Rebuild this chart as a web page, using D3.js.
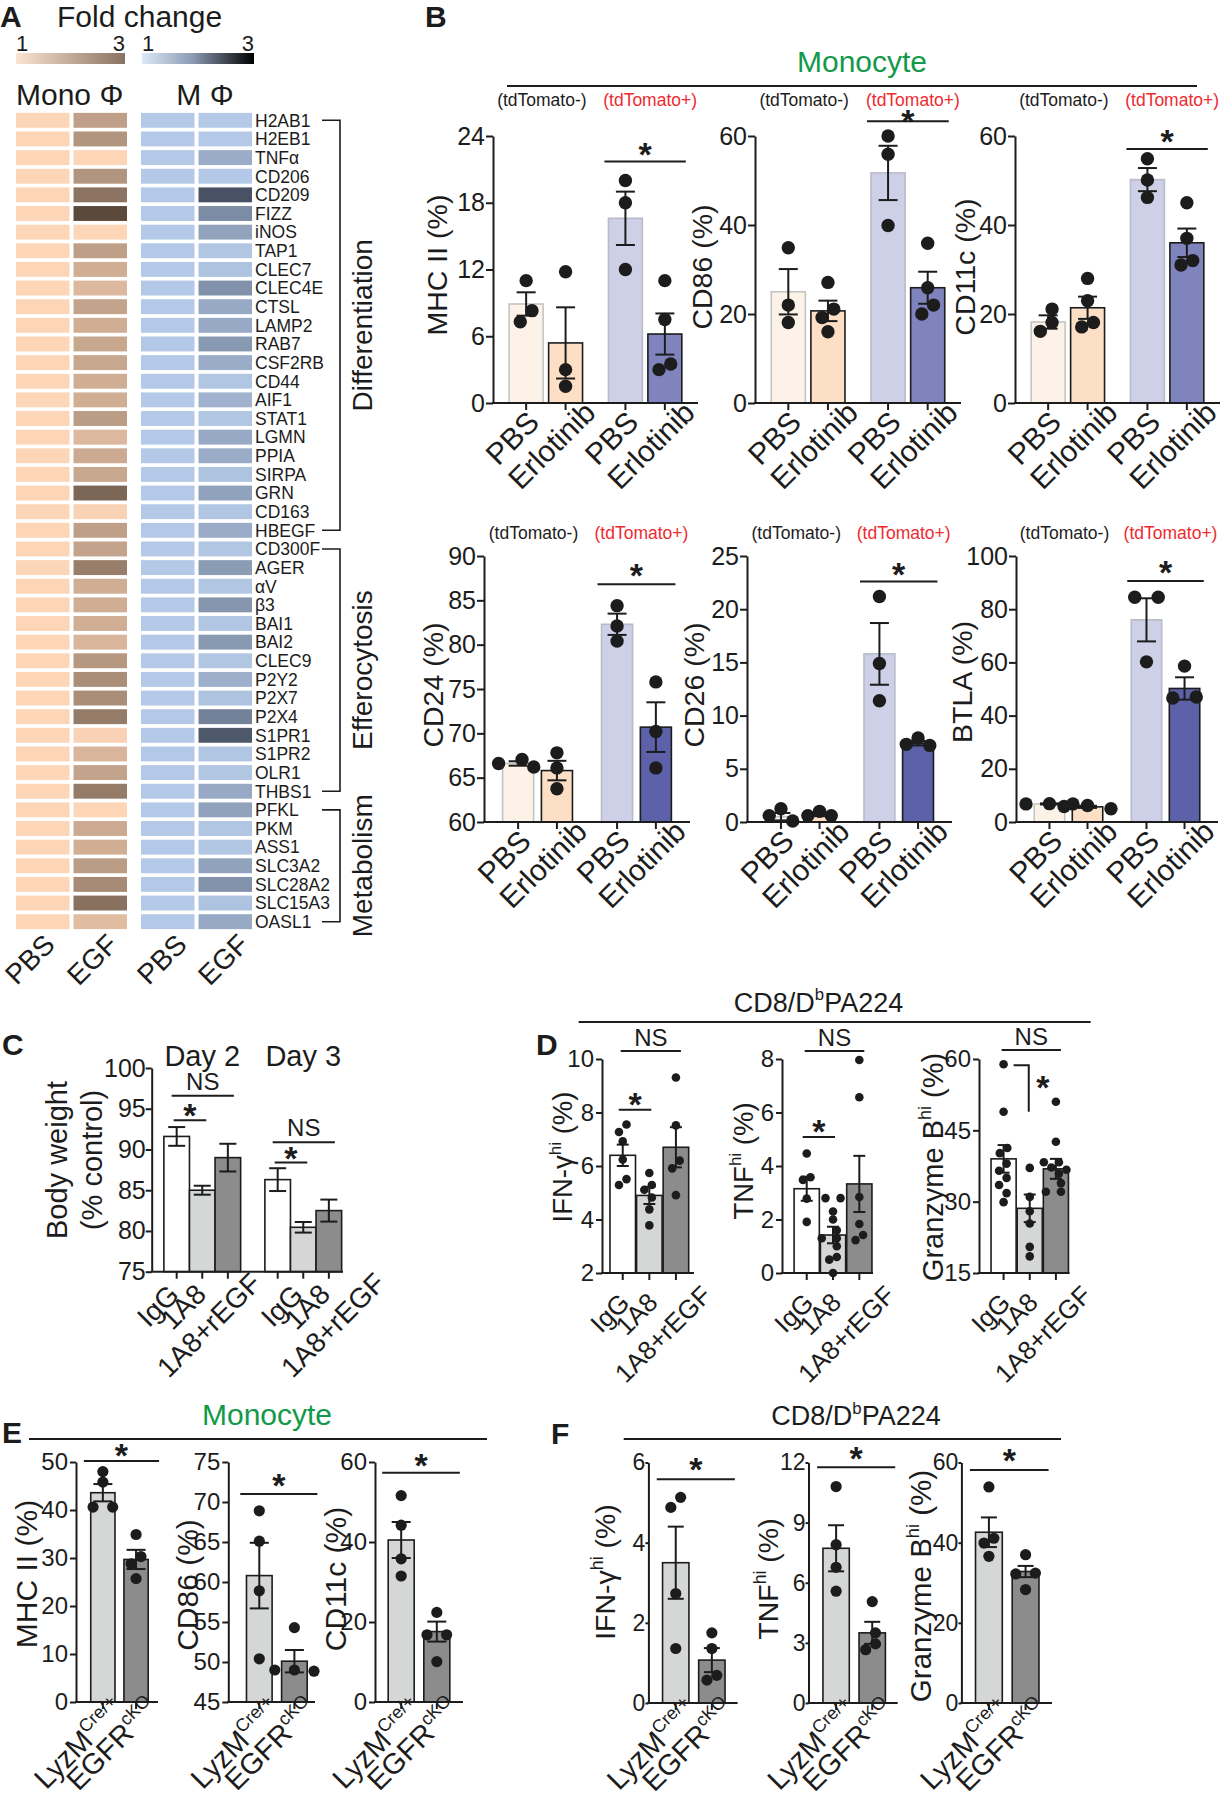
<!DOCTYPE html>
<html>
<head>
<meta charset="utf-8">
<script src="https://cdn.jsdelivr.net/npm/d3@7"></script>
<style>
  body { margin: 0; background: #fff; }
  svg text { font-family: "Liberation Sans", Arial, Helvetica, sans-serif; }
</style>
</head>
<body>
<svg id="fig" width="1226" height="1800"></svg>
<script>
// ---------- panel A : fold change heat map ----------
const genes = ["H2AB1","H2EB1","TNFα","CD206","CD209","FIZZ","iNOS","TAP1","CLEC7","CLEC4E","CTSL","LAMP2","RAB7","CSF2RB","CD44","AIF1","STAT1","LGMN","PPIA","SIRPA","GRN","CD163","HBEGF",
  "CD300F","AGER","αV","β3","BAI1","BAI2","CLEC9","P2Y2","P2X7","P2X4","S1PR1","S1PR2","OLR1","THBS1",
  "PFKL","PKM","ASS1","SLC3A2","SLC28A2","SLC15A3","OASL1"];
const geneSets = ["Differentiation", "Efferocytosis", "Metabolism"];
const geneSetFirst = ["H2AB1", "CD300F", "PFKL"];
const geneSetLast = ["HBEGF", "THBS1", "OASL1"];
const heatCells = ["Mono Φ", "M Φ"];
const heatCols = ["PBS", "EGF"];
const monoPBS = [1,1,1,1,1,1,1,1,1,1,1,1,1,1,1,1,1,1,1,1,1,1,1, 1,1,1,1,1,1,1,1,1,1,1,1,1,1, 1,1,1,1,1,1,1];
const monoEGF = [1.75,1.9,1.0,1.9,2.35,2.95,1.0,1.75,1.55,1.4,1.7,1.55,1.65,1.65,1.55,1.55,1.8,1.4,1.6,1.65,2.55,1.05,1.75,
  1.7,2.2,1.55,1.55,1.55,1.45,1.85,2.0,2.0,2.25,1.05,1.45,1.7,2.25,
  1.0,1.6,1.55,1.8,2.05,2.4,1.35];
const macPBS = [1,1,1,1,1,1,1,1,1,1,1,1,1,1,1,1,1,1,1,1,1,1,1, 1,1,1,1,1,1,1,1,1,1,1,1,1,1, 1,1,1,1,1,1,1];
const macEGF = [1.0,1.0,1.45,1.0,2.85,1.95,1.6,1.05,1.1,1.85,1.5,1.5,1.75,1.45,1.05,1.35,1.05,1.5,1.45,1.1,1.6,1.05,1.45,
  1.05,1.7,1.05,1.8,1.05,1.75,1.05,1.4,1.1,2.1,2.75,1.05,1.05,1.5,
  1.6,1.05,1.05,1.6,1.85,1.1,1.5];

// ---------- panel B : monocytes, PBS vs erlotinib ----------
const bCells = ["(tdTomato-)", "(tdTomato+)"];
const bTreat = ["PBS", "Erlotinib"];
const mhcMean = [8.9, 5.4, 16.6, 6.2];
const mhcSem = [1.05, 3.2, 2.4, 1.85];
const mhcPts = [[11.0, 8.3, 7.3], [11.8, 3.0, 1.5], [20.0, 18.0, 12.0], [11.0, 7.5, 3.0, 3.5]];
const cd86Mean = [25.0, 20.7, 51.7, 25.9];
const cd86Sem = [5.1, 2.3, 6.1, 3.6];
const cd86Pts = [[34.9, 22.0, 18.1], [27.1, 21.1, 19.2, 16.0], [60.0, 55.9, 39.9], [35.9, 25.9, 22.0, 20.0]];
const cd11cMean = [18.2, 21.4, 50.2, 36.0];
const cd11cSem = [1.5, 2.5, 2.6, 3.2];
const cd11cPts = [[21.1, 18.1, 16.1], [28.0, 23.0, 18.1, 17.1], [54.9, 50.1, 46.2], [45.0, 37.0, 32.0, 31.0]];
const cd24Mean = [66.6, 65.8, 82.3, 70.7];
const cd24Sem = [0.25, 1.1, 1.2, 2.8];
const cd24Pts = [[66.2, 67.05, 66.6], [67.8, 66.1, 63.75], [84.4, 82.1, 80.4], [75.8, 70.2, 66.1]];
const cd26Mean = [0.5, 0.7, 15.8, 7.4];
const cd26Sem = [0.35, 0.15, 2.9, 0.2];
const cd26Pts = [[0.1, 1.25, 0.6], [0.6, 1.0, 0.6], [21.2, 14.9, 11.4], [7.9, 7.2, 7.3]];
const btlaMean = [6.8, 5.7, 76.0, 50.2];
const btlaSem = [0.2, 0.4, 8.1, 4.2];
const btlaPts = [[6.8, 6.9, 6.8], [5.0, 6.2, 5.8], [84.5, 84.5, 60.2], [58.6, 46.6, 47.0]];

// ---------- panel C : body weight ----------
const cDays = ["Day 2", "Day 3"];
const cGroups = ["IgG", "1A8", "1A8+rEGF"];
const weightDay2 = [91.6, 85.0, 89.0];
const weightSemDay2 = [1.15, 0.55, 1.7];
const weightDay3 = [86.3, 80.45, 82.5];
const weightSemDay3 = [1.4, 0.65, 1.35];

// ---------- panel D : CD8/DbPA224 ----------
const dGroups = ["IgG", "1A8", "1A8+rEGF"];
const ifnMean = [6.4, 4.9, 6.7];
const ifnSem = [0.4, 0.32, 0.75];
const ifnPts = [[7.27, 7.55, 6.92, 6.24, 5.51, 5.29], [5.74, 5.29, 5.11, 4.82, 4.38, 3.78], [9.31, 7.52, 6.2, 5.91, 4.91]];
const tnfMean = [3.15, 1.42, 3.33];
const tnfSem = [0.45, 0.31, 1.05];
const tnfPts = [[4.47, 3.58, 3.48, 2.78, 1.91], [2.8, 2.8, 2.3, 2.0, 1.6, 1.3, 1.3, 1.0, 0.6, 0.5, 0.0], [7.96, 6.57, 2.84, 1.83, 1.42, 1.23]];
const gzbMean = [39.0, 28.6, 36.9];
const gzbSem = [2.9, 2.9, 2.1];
const gzbPts = [[58.9, 48.9, 41.3, 40.2, 38, 36.5, 35, 33.5, 31.8, 29.9], [37.1, 31, 28, 25.4, 20.5, 18.5], [51, 42.6, 38.3, 38.3, 37.2, 36.7, 35.9, 33.9, 32.1, 32.1]];

// ---------- panels E / F : LyzM-cre vs EGFR cKO ----------
const efGroups = [[["LyzM"], ["Cre/+", true]], [["EGFR"], ["cKO", true]]];
const mhcEMean = [43.6, 29.7], mhcESem = [1.8, 2.0], mhcEPts = [[45.8, 48, 40.6, 40.6], [34.9, 30.3, 28.8, 25.7]];
const cd86EMean = [60.8, 50.1], cd86ESem = [4.1, 1.4], cd86EPts = [[68.9, 65.1, 58.9, 50.4], [54.3, 49, 48.85, 49]];
const cd11cEMean = [40.5, 17.6], cd11cESem = [4.5, 2.5], cd11cEPts = [[51.6, 44.2, 35.8, 31.5], [22.4, 16.8, 16.8, 10.1]];
const ifnFMean = [3.5, 1.07], ifnFSem = [0.9, 0.3], ifnFPts = [[4.88, 5.13, 2.73, 1.36], [1.75, 1.36, 0.69, 0.57]];
const tnfFMean = [7.72, 3.5], tnfFSem = [1.15, 0.55], tnfFPts = [[10.8, 7.9, 6.77, 5.58], [5.06, 3.5, 2.95, 2.66]];
const gzbFMean = [42.6, 32.8], gzbFSem = [3.7, 1.4], gzbFPts = [[53.9, 41.1, 39.9, 36.6], [37, 32.4, 32.2, 28.3]];

// ================= drawing =================
const svg = d3.select("#fig");
const INK = "#1c1c1c";
const GREEN = "#12994a";
const RED = "#ef2a2f";

// text with optional superscripts: parts = ["txt", ["sup", true], ...]
function mkText(sel, parts, size) {
  const t = sel.append("text").attr("font-size", size).attr("fill", INK);
  let up = false;
  parts.forEach(p => {
    const s = Array.isArray(p) ? p[0] : p, sup = Array.isArray(p) && p[1];
    const ts = t.append("tspan").text(s);
    if (sup) {
      ts.attr("font-size", size * 0.62);
      if (!up) { ts.attr("dy", -size * 0.42); up = true; }
    } else if (up) { ts.attr("dy", size * 0.42); up = false; }
  });
  return t;
}

function yLabel(parts, cx, cy, size) {
  mkText(svg, parts, size).attr("text-anchor", "middle").attr("y", size * 0.35)
    .attr("transform", `translate(${cx},${cy}) rotate(-90)`);
}

// rotated category labels, centred below each tick
function xLabels(g, centers, labels, yB, size, dx, ay, by) {
  labels.forEach((lab, i) => {
    const t = mkText(g, Array.isArray(lab) ? lab : [lab], size)
      .attr("text-anchor", "middle").attr("y", size * 0.35);
    const L = t.node().getComputedTextLength();
    const ox = Array.isArray(dx) ? dx[i] : dx;
    t.attr("transform", `translate(${centers[i] + ox},${yB + ay + by * L}) rotate(-45)`);
  });
}

function panelLetter(s, x, y) {
  svg.append("text").attr("x", x).attr("y", y).attr("font-size", 30).attr("font-weight", "bold").attr("fill", INK).text(s);
}

// spread overlapping dots sideways (simple beeswarm)
function dodge(ys, r) {
  const step = 1.75 * r, minD = 1.85 * r;
  const order = d3.range(ys.length).sort((a, b) => ys[a] - ys[b]);
  const off = ys.map(() => 0), done = [];
  order.forEach(i => {
    for (let k = 0; k < 40; k++) {
      const c = k === 0 ? 0 : (k % 2 ? -1 : 1) * Math.ceil(k / 2) * step;
      if (done.every(j => Math.hypot(off[j] - c, ys[j] - ys[i]) >= minD)) { off[i] = c; break; }
    }
    done.push(i);
  });
  // centre each chain of touching dots
  const comp = ys.map((_, i) => i);
  const find = i => comp[i] === i ? i : (comp[i] = find(comp[i]));
  ys.forEach((a, i) => ys.forEach((b, j) => { if (i < j && Math.abs(a - b) < 2 * r) comp[find(i)] = find(j); }));
  const groups = d3.group(d3.range(ys.length), i => find(i));
  groups.forEach(m => { const mu = d3.mean(m, i => off[i]); m.forEach(i => off[i] -= mu); });
  return off;
}

function barChart(o) {
  const g = svg.append("g");
  const y = d3.scaleLinear().domain(o.domain).range([o.yB, o.yT]);
  const idx = d3.range(o.means.length);
  const cx = i => o.xs[i].x + o.xs[i].w / 2;

  g.selectAll("rect.bar").data(idx).join("rect").attr("class", "bar")
    .attr("x", i => o.xs[i].x).attr("width", i => o.xs[i].w)
    .attr("y", i => y(o.means[i])).attr("height", i => o.yB - y(o.means[i]))
    .attr("fill", i => o.fills[i]).attr("stroke", i => o.strokes[i]).attr("stroke-width", 1.6);

  idx.forEach(i => {
    const lo = y(Math.max(o.domain[0], o.means[i] - o.sems[i])), hi = y(o.means[i] + o.sems[i]);
    const eg = g.append("g").attr("stroke", INK).attr("stroke-width", 2);
    eg.append("line").attr("x1", cx(i)).attr("x2", cx(i)).attr("y1", lo).attr("y2", hi);
    [lo, hi].forEach(v => eg.append("line").attr("x1", cx(i) - o.cap / 2).attr("x2", cx(i) + o.cap / 2).attr("y1", v).attr("y2", v));
  });

  if (o.pts) idx.forEach(i => {
    const ys = o.pts[i].map(v => y(v));
    const off = dodge(ys, o.r);
    g.append("g").selectAll("circle").data(ys).join("circle")
      .attr("cx", (d, k) => cx(i) + off[k]).attr("cy", d => d).attr("r", o.r).attr("fill", INK);
  });

  const ax = g.append("g").attr("transform", `translate(${o.x0},0)`)
    .call(d3.axisLeft(y).tickValues(o.ticks).tickFormat(d3.format("~g"))
      .tickSize(o.tickSize).tickPadding(o.tickPad).tickSizeOuter(0));
  ax.attr("font-size", o.tickFont).attr("font-family", null);
  ax.selectAll("path, line").attr("stroke", INK).attr("stroke-width", 2);
  ax.selectAll("text").attr("fill", INK);

  g.append("line").attr("x1", o.x0 - 1).attr("x2", o.x1).attr("y1", o.yB).attr("y2", o.yB)
    .attr("stroke", INK).attr("stroke-width", 2);
  idx.forEach(i => g.append("line").attr("x1", cx(i)).attr("x2", cx(i)).attr("y1", o.yB).attr("y2", o.yB + 7)
    .attr("stroke", INK).attr("stroke-width", 2));

  return { g, y, cx, xs: o.xs };
}

// significance bar with "*" or "NS"
function sig(ch, xa, xb, v, label, gap) {
  const yy = ch.y(v);
  ch.g.append("line").attr("x1", xa).attr("x2", xb).attr("y1", yy).attr("y2", yy).attr("stroke", INK).attr("stroke-width", 2);
  const mx = (xa + xb) / 2;
  if (label === "*") {
    ch.g.append("text").attr("x", mx).attr("y", yy - gap + 0.56 * 34).attr("text-anchor", "middle")
      .attr("font-size", 34).attr("font-weight", "bold").attr("fill", INK).text("*");
  } else {
    ch.g.append("text").attr("x", mx).attr("y", yy - gap).attr("text-anchor", "middle")
      .attr("font-size", 24).attr("fill", INK).text(label);
  }
}

// ---------------- panel A ----------------
panelLetter("A", 0, 27);
svg.append("text").attr("x", 57).attr("y", 27).attr("font-size", 30).attr("fill", INK).text("Fold change");
const defs = svg.append("defs");
const gradMono = defs.append("linearGradient").attr("id", "gMono");
gradMono.append("stop").attr("offset", "0%").attr("stop-color", "#fbe4d1");
gradMono.append("stop").attr("offset", "100%").attr("stop-color", "#8a7262");
const gradMac = defs.append("linearGradient").attr("id", "gMac");
gradMac.append("stop").attr("offset", "0%").attr("stop-color", "#dde9f7");
gradMac.append("stop").attr("offset", "45%").attr("stop-color", "#8b9bb3");
gradMac.append("stop").attr("offset", "100%").attr("stop-color", "#000000");
[[16, 125, "gMono"], [142, 254, "gMac"]].forEach(([a, b, id]) => {
  svg.append("rect").attr("x", a).attr("y", 53).attr("width", b - a).attr("height", 11).attr("fill", `url(#${id})`);
  svg.append("text").attr("x", a).attr("y", 51).attr("font-size", 22).attr("fill", INK).text("1");
  svg.append("text").attr("x", b).attr("y", 51).attr("text-anchor", "end").attr("font-size", 22).attr("fill", INK).text("3");
});

const rowY = d3.scaleBand().domain(genes).range([111, 931]).paddingInner(0.2).paddingOuter(0.1);
const cellX = d3.scaleBand().domain(heatCells).range([16, 252]).paddingInner(0.112);
const colX = d3.scaleBand().domain(heatCols).range([0, cellX.bandwidth()]).paddingInner(0.07);
const heatColor = [
  d3.scaleLinear().domain([1, 3]).range(["#fdd5b7", "#574639"]),
  d3.scaleLinear().domain([1, 3]).range(["#b4c9e7", "#3f4859"])
];
const heatSeries = [[monoPBS, monoEGF], [macPBS, macEGF]];
heatCells.forEach((cell, ci) => {
  heatCols.forEach((col, j) => {
    svg.append("g").selectAll("rect").data(genes).join("rect")
      .attr("x", cellX(cell) + colX(col)).attr("width", colX.bandwidth())
      .attr("y", d => rowY(d)).attr("height", rowY.bandwidth())
      .attr("fill", (d, i) => heatColor[ci](heatSeries[ci][j][i]));
  });
});
svg.append("text").attr("x", 16).attr("y", 105).attr("font-size", 30).attr("fill", INK).text(heatCells[0]);
svg.append("text").attr("x", 205).attr("y", 105).attr("text-anchor", "middle").attr("font-size", 30).attr("fill", INK).text(heatCells[1]);
svg.append("g").selectAll("text").data(genes).join("text")
  .attr("x", 255).attr("y", d => rowY(d) + rowY.bandwidth() / 2).attr("dy", "0.36em")
  .attr("font-size", 17.5).attr("fill", INK).text(d => d);
geneSets.forEach((s, k) => {
  const ya = rowY(geneSetFirst[k]) + rowY.bandwidth() / 2, yb = rowY(geneSetLast[k]) + rowY.bandwidth() / 2;
  svg.append("path").attr("d", `M322,${ya}H340V${yb}H322`).attr("fill", "none").attr("stroke", INK).attr("stroke-width", 1.6);
  yLabel([s], 362, (ya + yb) / 2, 28);
});
const heatCenters = [];
heatCells.forEach(cell => heatCols.forEach(col => heatCenters.push(cellX(cell) + colX(col) + colX.bandwidth() / 2)));
xLabels(svg, heatCenters, ["PBS", "EGF", "PBS", "EGF"], 931, 28, [-13, -8, -6, -2], 17, 0.2);

// ---------------- panel B ----------------
panelLetter("B", 425, 27);
svg.append("text").attr("x", 862).attr("y", 72).attr("text-anchor", "middle").attr("font-size", 30).attr("fill", GREEN).text("Monocyte");
svg.append("line").attr("x1", 507).attr("x2", 1197).attr("y1", 86).attr("y2", 86).attr("stroke", INK).attr("stroke-width", 2);

const bSets = [
  { name: "MHC II (%)", mean: mhcMean, sem: mhcSem, pts: mhcPts, domain: [0, 24], ticks: [0, 6, 12, 18, 24], sigV: 21.7 },
  { name: "CD86 (%)", mean: cd86Mean, sem: cd86Sem, pts: cd86Pts, domain: [0, 60], ticks: [0, 20, 40, 60], sigV: 63.3 },
  { name: "CD11c (%)", mean: cd11cMean, sem: cd11cSem, pts: cd11cPts, domain: [0, 60], ticks: [0, 20, 40, 60], sigV: 57.1 },
  { name: "CD24 (%)", mean: cd24Mean, sem: cd24Sem, pts: cd24Pts, domain: [60, 90], ticks: [60, 65, 70, 75, 80, 85, 90], sigV: 86.8 },
  { name: "CD26 (%)", mean: cd26Mean, sem: cd26Sem, pts: cd26Pts, domain: [0, 25], ticks: [0, 5, 10, 15, 20, 25], sigV: 22.6 },
  { name: "BTLA (%)", mean: btlaMean, sem: btlaSem, pts: btlaPts, domain: [0, 100], ticks: [0, 20, 40, 60, 80, 100], sigV: 90.6 }
];
const bRows = [
  { yT: 136, yB: 403, pI: 0.261, pO: 0.163, pi2: 0.14, head: 106, fill4: "#8084be" },
  { yT: 556, yB: 822, pI: 0.294, pO: 0.188, pi2: 0.2, head: 539, fill4: "#5c61a9" }
];
const bFrames = [
  { x0: 493, x1: 698, row: 0, lab: [437, 265], gap: 15 },
  { x0: 755, x1: 961, row: 0, lab: [702, 267], gap: 7 },
  { x0: 1015, x1: 1220, row: 0, lab: [965, 267], gap: 15 },
  { x0: 484, x1: 690, row: 1, lab: [433, 685], gap: 16 },
  { x0: 747, x1: 952, row: 1, lab: [694, 685], gap: 15 },
  { x0: 1016, x1: 1218, row: 1, lab: [962, 682], gap: 16 }
];
bSets.forEach((s, k) => {
  const f = bFrames[k], r = bRows[f.row];
  const outer = d3.scaleBand().domain(bCells).range([f.x0, f.x1]).paddingInner(r.pI).paddingOuter(r.pO);
  const inner = d3.scaleBand().domain(bTreat).range([0, outer.bandwidth()]).paddingInner(r.pi2);
  const xs = [];
  bCells.forEach(c => bTreat.forEach(t => xs.push({ x: outer(c) + inner(t), w: inner.bandwidth() })));
  const ch = barChart({
    x0: f.x0, x1: f.x1, yT: r.yT, yB: r.yB, domain: s.domain, ticks: s.ticks, xs,
    means: s.mean, sems: s.sem, pts: s.pts,
    fills: ["#fdf2e7", "#fddfc6", "#cdd0e7", r.fill4], strokes: ["#c4c4c4", INK, "#b9bbc8", INK],
    r: 6.7, cap: 19, tickFont: 25, tickSize: 7, tickPad: 1
  });
  sig(ch, xs[2].x - 4, xs[3].x + xs[3].w + 4, s.sigV, "*", f.gap);
  bCells.forEach((c, j) => {
    svg.append("text").attr("x", outer(c) + outer.bandwidth() / 2 + (j ? 5 : -4)).attr("y", r.head)
      .attr("text-anchor", "middle").attr("font-size", 17.5).attr("fill", j ? RED : INK).text(c);
  });
  yLabel([s.name], f.lab[0], f.lab[1], 28.5);
  xLabels(ch.g, xs.map((_, i) => ch.cx(i)), [bTreat[0], bTreat[1], bTreat[0], bTreat[1]], r.yB, 30, -14, 26, 0.15);
});

// ---------------- panel C ----------------
panelLetter("C", 2, 1055);
{
  const x0 = 151.7, x1 = 343, yT = 1068, yB = 1271.7;
  const outer = d3.scaleBand().domain(cDays).range([x0, x1]).paddingInner(0.24).paddingOuter(0.067).align(0.9);
  const inner = d3.scaleBand().domain(cGroups).range([0, outer.bandwidth()]).paddingInner(0);
  const xs = [];
  cDays.forEach(d => cGroups.forEach(gname => xs.push({ x: outer(d) + inner(gname), w: inner.bandwidth() })));
  const ch = barChart({
    x0, x1, yT, yB, domain: [75, 100], ticks: [75, 80, 85, 90, 95, 100], xs,
    means: weightDay2.concat(weightDay3), sems: weightSemDay2.concat(weightSemDay3), pts: null,
    fills: ["#ffffff", "#d5d6d6", "#8c8c8c", "#ffffff", "#d5d6d6", "#8c8c8c"], strokes: Array(6).fill(INK),
    r: 0, cap: 17, tickFont: 25, tickSize: 6, tickPad: 0
  });
  [0, 3].forEach((b, k) => {
    const vStar = k ? 88.4 : 93.6, vNS = k ? 90.9 : 96.6;
    sig(ch, ch.cx(b) - 3, ch.cx(b + 1) + 4, vStar, "*", 12);
    sig(ch, ch.cx(b) - 5, ch.cx(b + 2) + 6, vNS, "NS", 6);
  });
  cDays.forEach(d => svg.append("text").attr("x", outer(d) + outer.bandwidth() / 2).attr("y", 1066)
    .attr("text-anchor", "middle").attr("font-size", 29).attr("fill", INK).text(d));
  yLabel(["Body weight"], 57, 1160, 29);
  yLabel(["(% control)"], 92, 1160, 29);
  xLabels(ch.g, xs.map((_, i) => ch.cx(i)), cGroups.concat(cGroups), yB, 28, [-19, -19, -19, 4, 4, 4], 24, 0.22);
}

// ---------------- panel D ----------------
panelLetter("D", 536, 1055);
mkText(svg, ["CD8/D", ["b", true], "PA224"], 27).attr("x", 818.5).attr("y", 1011.7).attr("text-anchor", "middle");
svg.append("line").attr("x1", 578.6).attr("x2", 1090.6).attr("y1", 1022).attr("y2", 1022).attr("stroke", INK).attr("stroke-width", 2);
const cdLabels = [
  ["IFN-γ", ["hi", true], " (%)"],
  ["TNF", ["hi", true], " (%)"],
  ["Granzyme B", ["hi", true], " (%)"]
];
{
  const sets = [
    { mean: ifnMean, sem: ifnSem, pts: ifnPts, domain: [2, 10], ticks: [2, 4, 6, 8, 10], star: 8.1, ns: 10.3 },
    { mean: tnfMean, sem: tnfSem, pts: tnfPts, domain: [0, 8], ticks: [0, 2, 4, 6, 8], star: 5.08, ns: 8.3 },
    { mean: gzbMean, sem: gzbSem, pts: gzbPts, domain: [15, 60], ticks: [15, 30, 45, 60], star: null, ns: 61.9 }
  ];
  const frames = [
    { x0: 602, x1: 694, align: 0.6, lab: [562.5, 1157] },
    { x0: 782, x1: 873, align: 0.92, lab: [743, 1161] },
    { x0: 979, x1: 1069.5, align: 0.92, lab: [933, 1167] }
  ];
  sets.forEach((s, k) => {
    const f = frames[k];
    const xb = d3.scaleBand().domain(dGroups).range([f.x0, f.x1]).paddingInner(0.04).paddingOuter(0.25).align(f.align);
    const xs = dGroups.map(gname => ({ x: xb(gname), w: xb.bandwidth() }));
    const ch = barChart({
      x0: f.x0, x1: f.x1, yT: 1059, yB: 1273, domain: s.domain, ticks: s.ticks, xs,
      means: s.mean, sems: s.sem, pts: s.pts,
      fills: ["#ffffff", "#d5d6d6", "#8c8c8c"], strokes: [INK, INK, INK],
      r: 4.3, cap: 12, tickFont: 24, tickSize: 6, tickPad: 2
    });
    if (s.star !== null) sig(ch, ch.cx(0) - 4, ch.cx(1) + 2, s.star, "*", 13);
    sig(ch, ch.cx(0) - 2, ch.cx(2) + 5, s.ns, "NS", 5);
    if (s.star === null) {
      // elbow bracket IgG -> 1A8
      ch.g.append("path").attr("d", `M${ch.cx(0) + 10},${ch.y(58.7)}H${ch.cx(1) - 1}V${ch.y(48.9)}`)
        .attr("fill", "none").attr("stroke", INK).attr("stroke-width", 2);
      ch.g.append("text").attr("x", ch.cx(1) + 13).attr("y", ch.y(55.6) + 0.56 * 34).attr("text-anchor", "middle")
        .attr("font-size", 34).attr("font-weight", "bold").attr("fill", INK).text("*");
    }
    yLabel(cdLabels[k], f.lab[0], f.lab[1], k === 2 ? 29 : 27.5);
    xLabels(ch.g, xs.map((_, i) => ch.cx(i)), dGroups, 1273, 26, -13, 29, 0.26);
  });
}

// ---------------- panels E and F ----------------
panelLetter("E", 2, 1443);
svg.append("text").attr("x", 267).attr("y", 1425).attr("text-anchor", "middle").attr("font-size", 30).attr("fill", GREEN).text("Monocyte");
svg.append("line").attr("x1", 29).attr("x2", 487).attr("y1", 1439).attr("y2", 1439).attr("stroke", INK).attr("stroke-width", 2);
panelLetter("F", 551, 1444);
mkText(svg, ["CD8/D", ["b", true], "PA224"], 27).attr("x", 856).attr("y", 1425).attr("text-anchor", "middle");
svg.append("line").attr("x1", 623.7).attr("x2", 1061).attr("y1", 1439).attr("y2", 1439).attr("stroke", INK).attr("stroke-width", 2);
{
  const sets = [
    { mean: mhcEMean, sem: mhcESem, pts: mhcEPts, domain: [0, 50], ticks: [0, 10, 20, 30, 40, 50], star: 50.2, name: ["MHC II (%)"] },
    { mean: cd86EMean, sem: cd86ESem, pts: cd86EPts, domain: [45, 75], ticks: [45, 50, 55, 60, 65, 70, 75], star: 71, name: ["CD86 (%)"] },
    { mean: cd11cEMean, sem: cd11cESem, pts: cd11cEPts, domain: [0, 60], ticks: [0, 20, 40, 60], star: 57.3, name: ["CD11c (%)"] },
    { mean: ifnFMean, sem: ifnFSem, pts: ifnFPts, domain: [0, 6], ticks: [0, 2, 4, 6], star: 5.58, name: cdLabels[0] },
    { mean: tnfFMean, sem: tnfFSem, pts: tnfFPts, domain: [0, 12], ticks: [0, 3, 6, 9, 12], star: 11.76, name: cdLabels[1] },
    { mean: gzbFMean, sem: gzbFSem, pts: gzbFPts, domain: [0, 60], ticks: [0, 20, 40, 60], star: 58.1, name: cdLabels[2] }
  ];
  const frames = [
    { x0: 76, x1: 158, yT: 1462, yB: 1702, align: 0.6, lab: [26, 1574], lsz: 30, gap: 13, cap: 19, ts: 6, tp: 2, tf: 24 },
    { x0: 228.3, x1: 315, yT: 1462, yB: 1702, align: 0.7, lab: [187, 1585], lsz: 30, gap: 16, cap: 19, ts: 6, tp: 2, tf: 24 },
    { x0: 375, x1: 463, yT: 1462, yB: 1702, align: 0.5, lab: [335, 1579], lsz: 30, gap: 15, cap: 19, ts: 6, tp: 2, tf: 24 },
    { x0: 648.4, x1: 737.6, yT: 1462.5, yB: 1703, align: 0.53, lab: [605, 1572], lsz: 28.5, gap: 17, cap: 16, ts: 3, tp: 0, tf: 23 },
    { x0: 808.5, x1: 897.7, yT: 1462.5, yB: 1703, align: 0.54, lab: [768, 1579], lsz: 28.5, gap: 16, cap: 16, ts: 3, tp: 0, tf: 23 },
    { x0: 961.4, x1: 1052, yT: 1462.5, yB: 1703, align: 0.52, lab: [921, 1586], lsz: 29.5, gap: 17, cap: 16, ts: 3, tp: 0, tf: 23 }
  ];
  sets.forEach((s, k) => {
    const f = frames[k];
    const xb = d3.scaleBand().domain([0, 1]).range([f.x0, f.x1]).paddingInner(0.27).paddingOuter(0.37).align(f.align);
    const xs = [0, 1].map(i => ({ x: xb(i), w: xb.bandwidth() }));
    const ch = barChart({
      x0: f.x0, x1: f.x1, yT: f.yT, yB: f.yB, domain: s.domain, ticks: s.ticks, xs,
      means: s.mean, sems: s.sem, pts: s.pts,
      fills: ["#d5d7d6", "#8c8c8c"], strokes: [INK, INK],
      r: 5.6, cap: f.cap, tickFont: f.tf, tickSize: f.ts, tickPad: f.tp
    });
    sig(ch, ch.cx(0) - 19, ch.cx(1) + 23, s.star, "*", f.gap);
    yLabel(s.name, f.lab[0], f.lab[1], f.lsz);
    xLabels(ch.g, xs.map((_, i) => ch.cx(i)), efGroups, f.yB, 29, -24, 19, 0.2);
  });
}
</script>
</body>
</html>
